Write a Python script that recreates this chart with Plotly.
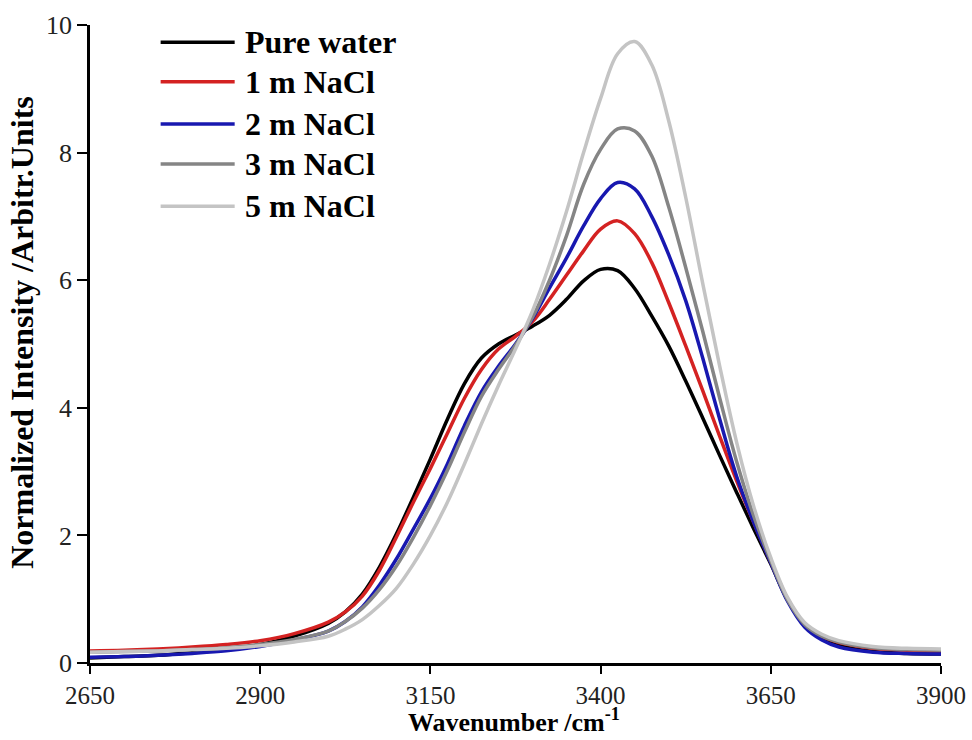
import plotly.graph_objects as go

# Wavenumber grid (cm^-1)
wavenumber = [2650, 2700, 2750, 2800, 2850, 2900, 2950, 3000, 3025, 3050, 3075, 3100, 3125,
              3150, 3175, 3200, 3225, 3250, 3275, 3300, 3325, 3350, 3375, 3400, 3425, 3450,
              3475, 3500, 3525, 3550, 3575, 3600, 3625, 3650, 3675, 3700, 3725, 3750, 3800,
              3850, 3900]

pure_water = [0.08, 0.10, 0.12, 0.16, 0.21, 0.29, 0.42, 0.62, 0.80, 1.08, 1.50, 2.02, 2.60,
              3.20, 3.82, 4.38, 4.78, 5.00, 5.14, 5.28, 5.45, 5.70, 5.99, 6.17, 6.15, 5.87,
              5.44, 4.97, 4.42, 3.84, 3.25, 2.67, 2.10, 1.55, 0.98, 0.60, 0.39, 0.28, 0.18,
              0.15, 0.14]

nacl_1m = [0.19, 0.20, 0.22, 0.25, 0.29, 0.35, 0.46, 0.64, 0.80, 1.05, 1.45, 1.97, 2.52,
           3.05, 3.60, 4.15, 4.60, 4.92, 5.12, 5.35, 5.70, 6.08, 6.46, 6.80, 6.93, 6.73,
           6.28, 5.65, 4.97, 4.27, 3.55, 2.85, 2.20, 1.58, 1.00, 0.60, 0.42, 0.32, 0.23,
           0.20, 0.19]

nacl_2m = [0.09, 0.10, 0.12, 0.15, 0.19, 0.26, 0.36, 0.50, 0.65, 0.88, 1.22, 1.63, 2.10,
           2.58, 3.12, 3.72, 4.25, 4.65, 5.00, 5.40, 5.88, 6.35, 6.85, 7.28, 7.53, 7.43,
           7.00, 6.40, 5.68, 4.78, 3.82, 2.92, 2.20, 1.57, 0.96, 0.56, 0.36, 0.25, 0.17,
           0.15, 0.14]

nacl_3m = [0.17, 0.18, 0.19, 0.21, 0.24, 0.29, 0.37, 0.50, 0.65, 0.86, 1.15, 1.52, 1.97,
           2.47, 3.02, 3.62, 4.18, 4.60, 4.98, 5.42, 6.00, 6.70, 7.50, 8.05, 8.37, 8.34,
           7.95, 7.15, 6.20, 5.20, 4.15, 3.15, 2.30, 1.60, 0.98, 0.60, 0.42, 0.33, 0.24,
           0.21, 0.20]

nacl_5m = [0.17, 0.18, 0.19, 0.21, 0.23, 0.27, 0.33, 0.42, 0.53, 0.68, 0.90, 1.17, 1.55,
           2.00, 2.52, 3.12, 3.75, 4.35, 4.92, 5.52, 6.25, 7.08, 8.00, 8.85, 9.55, 9.74,
           9.38, 8.50, 7.30, 5.95, 4.65, 3.45, 2.45, 1.65, 1.02, 0.63, 0.45, 0.35, 0.26,
           0.23, 0.22]

series_names = ["Pure water", "1 m NaCl", "2 m NaCl", "3 m NaCl", "5 m NaCl"]
series_values = [pure_water, nacl_1m, nacl_2m, nacl_3m, nacl_5m]
series_colors = ["#000000", "#d42222", "#1818b0", "#858585", "#c4c4c4"]

x_ticks = [2650, 2900, 3150, 3400, 3650, 3900]
y_ticks = [0, 2, 4, 6, 8, 10]

SERIF = "Liberation Serif"

fig = go.Figure()
for name, vals, col in zip(series_names, series_values, series_colors):
    fig.add_trace(go.Scatter(x=wavenumber, y=vals, mode="lines", name=name,
                             line=dict(color=col, width=3.5, shape="spline", smoothing=1.0),
                             showlegend=False))

# manual legend (long line samples as in the reference)
legend_y = [0.973, 0.911, 0.845, 0.782, 0.716]
for name, col, ly in zip(series_names, series_colors, legend_y):
    fig.add_shape(type="line", xref="paper", yref="paper",
                  x0=0.083, x1=0.170, y0=ly, y1=ly,
                  line=dict(color=col, width=3.5))
    fig.add_annotation(xref="paper", yref="paper", x=0.180, y=ly, text="<b>" + name + "</b>",
                       showarrow=False, xanchor="left", yanchor="middle",
                       font=dict(family=SERIF, size=32, color="black"))

# axis titles
fig.add_annotation(xref="paper", yref="paper", x=0.498, y=-0.117,
                   text="<b>Wavenumber /cm<sup>-1</sup></b>", showarrow=False,
                   xanchor="center", yanchor="bottom", borderpad=0,
                   font=dict(family=SERIF, size=26, color="black"))
fig.add_annotation(xref="paper", yref="paper", x=-0.080, y=0.519,
                   text="<b>Normalized Intensity /Arbitr.Units</b>", showarrow=False,
                   textangle=-90, xanchor="center", yanchor="middle",
                   font=dict(family=SERIF, size=32, color="black"))

fig.update_layout(
    width=972, height=740,
    margin=dict(l=90, r=31, t=25, b=77),
    paper_bgcolor="white", plot_bgcolor="white",
    font=dict(family=SERIF, color="black"),
)
fig.update_xaxes(range=[2650, 3900], tickvals=x_ticks, ticktext=[str(v) for v in x_ticks],
                 automargin=False,
                 showgrid=False, zeroline=False, showline=True, linecolor="black", linewidth=2.5,
                 ticks="outside", ticklen=8, tickwidth=2, tickcolor="black",
                 tickfont=dict(family=SERIF, size=25, color="#222"))
fig.update_yaxes(range=[0, 10], tickvals=y_ticks, ticktext=[str(v) for v in y_ticks],
                 automargin=False,
                 showgrid=False, zeroline=False, showline=True, linecolor="black", linewidth=2.5,
                 ticks="outside", ticklen=10, tickwidth=2, tickcolor="black",
                 tickfont=dict(family=SERIF, size=26, color="#222"))

fig.write_html("out.html", config={"displayModeBar": False},
               post_script="document.body.style.margin='0';document.body.style.overflow='hidden';")
